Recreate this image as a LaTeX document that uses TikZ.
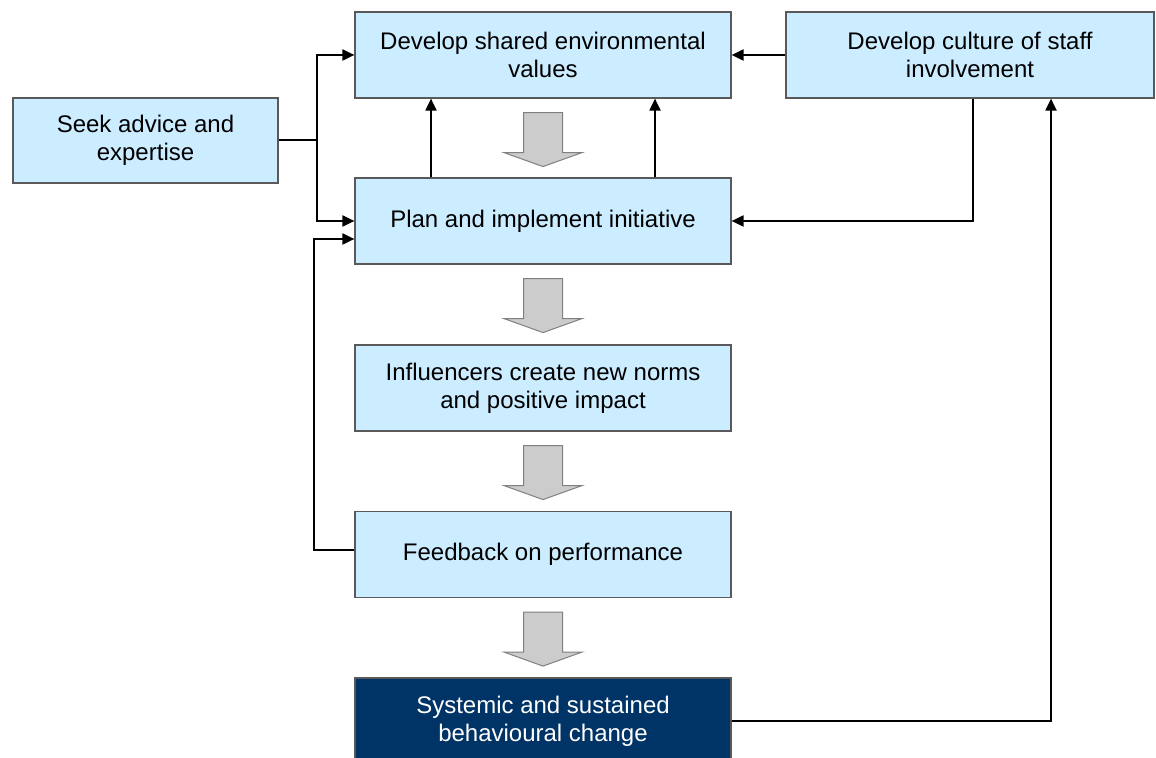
\documentclass[tikz,border=0pt]{standalone}
\usepackage{fontspec}
\setmainfont{Liberation Sans}
\usetikzlibrary{arrows.meta}
\definecolor{paleblue}{RGB}{204,236,255}
\definecolor{navy}{RGB}{0,51,102}
\definecolor{arrowgrey}{RGB}{204,204,204}
\tikzset{
  box/.style={draw=black!65, line width=0.6pt, fill=paleblue, inner sep=0pt,
    minimum width=188pt, minimum height=43pt, align=center,
    font=\fontsize{12}{14}\selectfont},
  darkbox/.style={box, fill=navy, text=white},
  conn/.style={line width=1pt, -{Triangle[length=6pt,width=5.5pt]}},
  blk/.style={draw=black!50, line width=0.5pt, fill=arrowgrey}
}
\begin{document}
\begin{tikzpicture}[x=0.5pt, y=-0.5pt]
\def\blockarrow{(-19.5,14)--(19.5,14)--(19.5,54)--(39,54)--(0,68)--(-39,54)--(-19.5,54)--cycle}
\useasboundingbox (0,0) rectangle (1156,758);

\node[box] (values) at (543,55) {Develop shared environmental\\values};
\node[box, minimum width=184pt] (culture) at (970,55) {Develop culture of staff\\involvement};
\node[box, minimum width=132.5pt, minimum height=42.5pt] (seek) at (145.5,140.5) {Seek advice and\\expertise};
\node[box] (plan) at (543,221) {Plan and implement initiative};
\node[box] (influ) at (543,388) {Influencers create new norms\\and positive impact};
\node[box] (feed) at (543,554.5) {Feedback on performance};
\node[darkbox] (change) at (543,721) {Systemic and sustained\\behavioural change};

\foreach \n in {values,plan,influ,feed}
  \draw[blk, shift={(\n.south)}] \blockarrow;

\coordinate (split) at ([xshift=19pt]seek.east);
\draw[line width=1pt] (seek.east) -- (split);
\draw[conn] (split) |- (values.west);
\draw[conn] (split) |- (plan.west);
\draw[conn] (culture.west) -- (values.east);
\draw[conn] ([xshift=-56pt]plan.north) -- ([xshift=-56pt]values.south);
\draw[conn] ([xshift=56pt]plan.north) -- ([xshift=56pt]values.south);
\draw[conn] ([xshift=1.5pt]culture.south) |- (plan.east);
\draw[conn] ([yshift=2.25pt]feed.west) -- ++(-20pt,0) |- ([yshift=-9pt]plan.west);
\draw[conn] (change.east) -| ([xshift=40.5pt]culture.south);
\end{tikzpicture}
\end{document}
